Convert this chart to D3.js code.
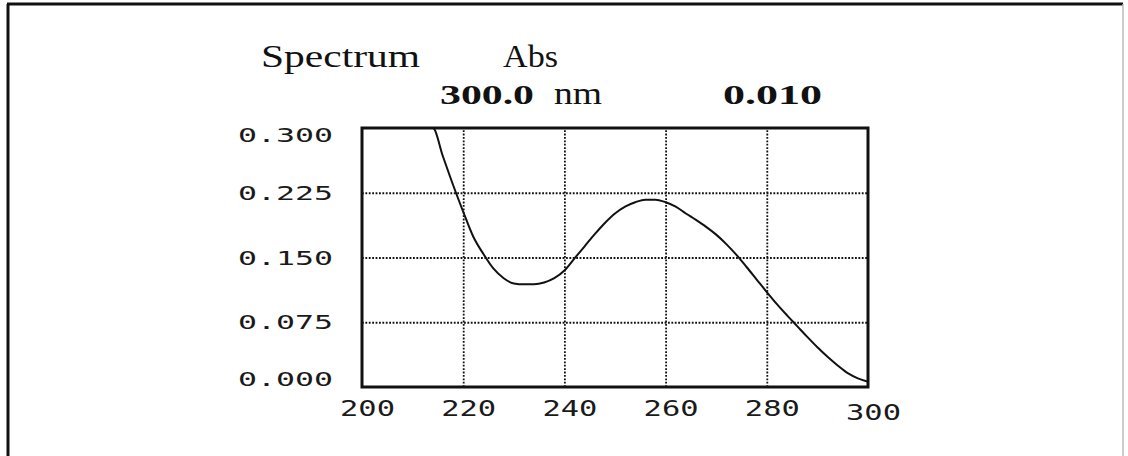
<!DOCTYPE html>
<html>
<head>
<meta charset="utf-8">
<script src="https://cdn.jsdelivr.net/npm/d3@7"></script>
<style>
    body { margin: 0; background: #fff; }
    svg { display: block; }
    .grid line { stroke: #111; stroke-width: 1.8; stroke-dasharray: 1.8, 1.6; }
    .grid .domain { display: none; }
    .lbl text { font-family: "DejaVu Sans Mono", monospace; fill: #1a1a1a; }
    .lbl .domain, .lbl line { display: none; }
</style>
</head>
<body>
<div id="chart"></div>
<script>
    "use strict";

    // wavelength (nm) and absorbance
    var wavelengths = [200, 205, 210, 214, 216, 218, 220, 222, 224, 226, 228, 230, 232, 234, 236, 238, 240,
        242, 244, 246, 248, 250, 252, 254, 256, 258, 260, 262, 264, 266, 268, 270, 272, 274, 276, 278, 280,
        282, 284, 286, 288, 290, 292, 294, 296, 298, 300];
    var absorbance = [0.300, 0.300, 0.300, 0.300, 0.267, 0.234, 0.203, 0.174, 0.154, 0.137, 0.126, 0.120,
        0.119, 0.119, 0.121, 0.126, 0.135, 0.149, 0.163, 0.177, 0.190, 0.201, 0.209, 0.214, 0.217, 0.217,
        0.214, 0.209, 0.201, 0.1935, 0.1855, 0.1765, 0.1655, 0.153, 0.139, 0.1245, 0.110, 0.096, 0.083,
        0.0705, 0.058, 0.046, 0.035, 0.025, 0.016, 0.010, 0.006];

    var xTicks = [200, 220, 240, 260, 280, 300];
    var yTicks = [0.000, 0.075, 0.150, 0.225, 0.300];
    var yTickLabels = ["0.000", "0.075", "0.150", "0.225", "0.300"];

    var titleText = "Spectrum";
    var unitText = "Abs";
    var cursorWavelength = "300.0";
    var cursorUnit = "nm";
    var cursorValue = "0.010";

    function draw() {
        var W = 1128, H = 456;
        var margin = { top: 128, right: 260, bottom: 69, left: 362 };
        var width = W - margin.left - margin.right;
        var height = H - margin.top - margin.bottom;

        var svg = d3.select("#chart").append("svg")
            .attr("width", W)
            .attr("height", H);

        // outer panel border (bottom runs off the picture)
        svg.append("line").attr("x1", 8).attr("y1", 4).attr("x2", 8).attr("y2", H)
            .attr("stroke", "#111").attr("stroke-width", 3);
        svg.append("line").attr("x1", 7).attr("y1", 4).attr("x2", 1123).attr("y2", 4)
            .attr("stroke", "#111").attr("stroke-width", 3);
        svg.append("line").attr("x1", 1123).attr("y1", 4).attr("x2", 1123).attr("y2", H)
            .attr("stroke", "#bbb").attr("stroke-width", 1.5);

        // header texts
        function header(txt, x, y, len, size, bold) {
            svg.append("text")
                .attr("x", x).attr("y", y)
                .attr("textLength", len)
                .attr("lengthAdjust", "spacingAndGlyphs")
                .style("font-family", "'Liberation Serif', serif")
                .style("font-size", size + "px")
                .style("font-weight", bold ? "bold" : "normal")
                .style("fill", "#111")
                .text(txt);
        }
        header(titleText, 261, 67, 159, 31, false);
        header(unitText, 503, 67, 55, 31, false);
        header(cursorWavelength, 440, 104, 94, 27, true);
        header(cursorUnit, 554, 104, 48, 32, false);
        header(cursorValue, 723, 104, 99, 27, true);

        var g = svg.append("g")
            .attr("transform", "translate(" + margin.left + "," + margin.top + ")");

        var xScale = d3.scaleLinear().domain([200, 300]).range([0, width]);
        var yScale = d3.scaleLinear().domain([0, 0.3]).range([height, 0]);

        // dotted grid
        g.append("g")
            .attr("class", "grid")
            .attr("transform", "translate(0," + height + ")")
            .call(d3.axisBottom(xScale)
                .tickValues(xTicks.slice(1, -1))
                .tickSizeInner(-height)
                .tickSizeOuter(0)
                .tickFormat(""));
        g.append("g")
            .attr("class", "grid")
            .call(d3.axisLeft(yScale)
                .tickValues(yTicks.slice(1, -1))
                .tickSizeInner(-width)
                .tickSizeOuter(0)
                .tickFormat(""));

        // spectrum line
        var points = wavelengths.map(function (w, i) { return { x: w, y: absorbance[i] }; });
        g.append("path")
            .datum(points)
            .attr("fill", "none")
            .attr("stroke", "#111")
            .attr("stroke-width", 2)
            .attr("stroke-linejoin", "round")
            .attr("d", d3.line()
                .x(function (d) { return xScale(d.x); })
                .y(function (d) { return yScale(d.y); })
                .curve(d3.curveMonotoneX));

        // plot frame
        g.append("rect")
            .attr("width", width)
            .attr("height", height)
            .attr("fill", "none")
            .attr("stroke", "#111")
            .attr("stroke-width", 3);

        // x labels
        var xl = g.append("g")
            .attr("class", "lbl")
            .attr("transform", "translate(0," + height + ")")
            .call(d3.axisBottom(xScale).tickValues(xTicks).tickSize(0));
        xl.selectAll("text")
            .attr("x", 5)
            .attr("y", function (d) { return d === 300 ? 33 : 29; })
            .attr("dy", 0)
            .attr("textLength", 55)
            .attr("lengthAdjust", "spacingAndGlyphs")
            .style("font-size", "22px");

        // y labels
        var yl = g.append("g")
            .attr("class", "lbl")
            .call(d3.axisLeft(yScale).tickValues(yTicks).tickSize(0)
                .tickFormat(function (d, i) { return yTickLabels[i]; }));
        yl.selectAll("text")
            .attr("x", -29)
            .attr("dy", function (d) {
                if (d === 0.3) { return 13.5; }
                if (d === 0) { return -1.5; }
                return 6.5;
            })
            .attr("textLength", 95)
            .attr("lengthAdjust", "spacingAndGlyphs")
            .style("font-size", "20px");
    }

    draw();
</script>
</body>
</html>
